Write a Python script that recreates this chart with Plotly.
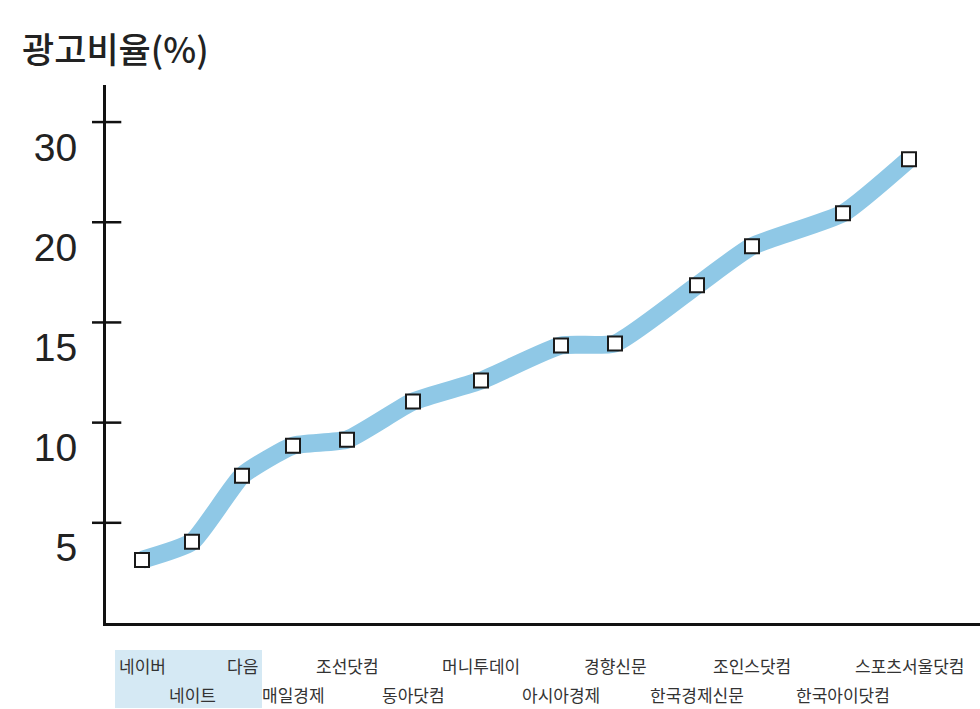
import plotly.graph_objects as go

# ---- data ----
sites = ["네이버", "네이트", "다음", "매일경제", "조선닷컴", "동아닷컴", "머니투데이",
         "아시아경제", "경향신문", "한국경제신문", "조인스닷컴", "한국아이닷컴", "스포츠서울닷컴"]
ad_ratio = [3.15, 4.05, 7.35, 8.85, 9.15, 11.05, 12.1, 13.85, 13.95, 16.85, 18.8, 20.9, 26.3]
x_pos = [36, 86, 136, 187, 241, 307, 375, 455, 509, 591, 646, 737, 803]
tick_vals = [5, 10, 15, 20, 30]


def scale(v):
    # broken (piecewise) axis: 0-20 in steps of 5, then 20-30 compressed
    return v / 5 if v <= 20 else 4 + (v - 20) / 10


y_scaled = [scale(v) for v in ad_ratio]
tick_pos = [scale(v) for v in tick_vals]

fig = go.Figure()
fig.add_trace(go.Scatter(
    x=x_pos, y=y_scaled, mode="lines",
    line=dict(color="#8fc8e6", width=18, shape="spline", smoothing=0.5),
    hoverinfo="skip", showlegend=False))
fig.add_trace(go.Scatter(
    x=x_pos, y=y_scaled, mode="markers",
    marker=dict(symbol="square", size=14, color="white",
                line=dict(color="#1a1a1a", width=2)),
    text=sites, showlegend=False))

# crossing tick marks drawn as one shape each (both sides of the axis)
for tp in tick_pos:
    fig.add_shape(type="line", xref="paper", yref="y", x0=-0.016, x1=0.0175,
                  y0=tp, y1=tp, layer="above",
                  line=dict(color="#111111", width=2.5))

# highlight box behind first three labels
fig.add_shape(type="rect", xref="x", yref="paper",
              x0=x_pos[0] - 27, x1=x_pos[2] + 20, y0=-0.158, y1=-0.05,
              fillcolor="#d5e9f4", line=dict(width=0), layer="below")

for i, (name, xp) in enumerate(zip(sites, x_pos)):
    fig.add_annotation(x=xp, y=0, xref="x", yref="paper", text=name,
                       showarrow=False, yanchor="middle", xanchor="center",
                       yshift=-42 if i % 2 == 0 else -71,
                       font=dict(family="Noto Sans CJK KR", size=17, color="#333333"))

fig.add_annotation(x=0, y=1, xref="paper", yref="paper", text="광고비율(%)",
                   showarrow=False, xanchor="left", yanchor="middle",
                   xshift=-86, yshift=38,
                   font=dict(family="Noto Sans CJK KR", size=35, color="#222222",
                             weight=500))

fig.update_layout(
    width=980, height=709,
    margin=dict(l=106, r=0, t=85, b=86),
    paper_bgcolor="white", plot_bgcolor="white",
    xaxis=dict(range=[0, 874], showgrid=False, zeroline=False,
               showticklabels=False, ticks="", showline=True,
               linecolor="#111111", linewidth=3),
    yaxis=dict(range=[0, 5.37], showgrid=False, zeroline=False,
               tickvals=tick_pos, ticktext=[str(v) for v in tick_vals],
               ticks="", showline=True, linecolor="#111111", linewidth=3,
               ticklabelshift=25, ticklabelstandoff=18,
               tickfont=dict(family="Liberation Sans", size=39, color="#222222")),
)

fig.write_html("out.html")
